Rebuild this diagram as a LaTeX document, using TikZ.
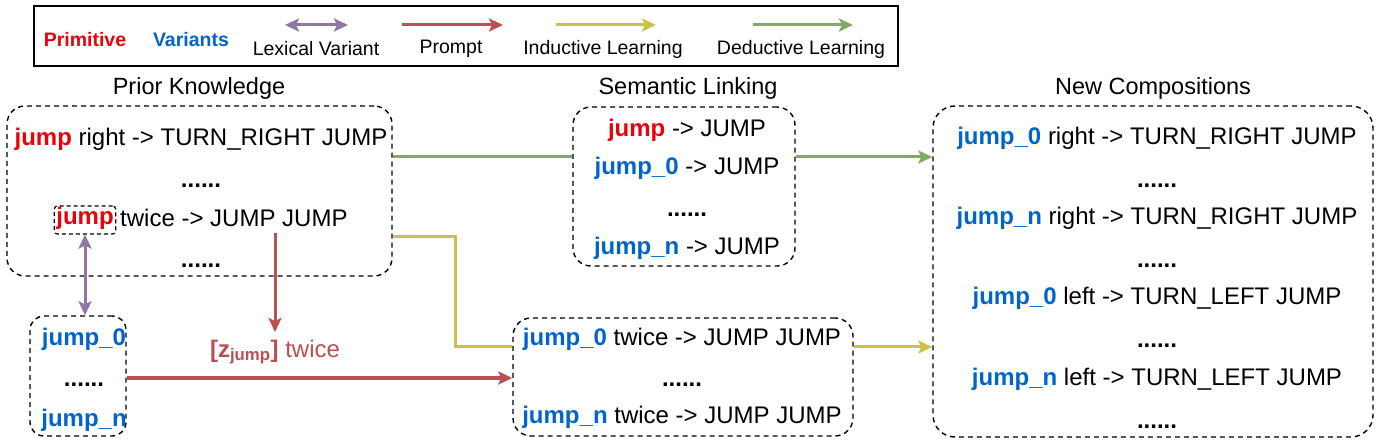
\documentclass[tikz,border=0pt]{standalone}
\usepackage{fontspec}
\setmainfont{Liberation Sans}
\usetikzlibrary{arrows.meta,calc}
\definecolor{prim}{RGB}{236,0,10}
\definecolor{vari}{RGB}{0,100,200}
\definecolor{lexc}{RGB}{142,118,166}
\definecolor{prc}{RGB}{186,80,84}
\definecolor{indc}{RGB}{201,193,74}
\definecolor{dedc}{RGB}{130,170,102}
\newcommand{\Pj}{\textcolor{prim}{\textbf{jump}}}
\newcommand{\Vz}{\textcolor{vari}{\textbf{jump\_0}}}
\newcommand{\Vn}{\textcolor{vari}{\textbf{jump\_n}}}
\newcommand{\Dots}{\textbf{......}}
\begin{document}
\begin{tikzpicture}[x=1pt,y=-1pt,
  txt/.style={font=\fontsize{24}{28}\selectfont, inner sep=0pt, text height=17pt, text depth=5pt},
  ttl/.style={font=\fontsize{23.5}{28}\selectfont, inner sep=0pt},
  lgt/.style={font=\fontsize{19.5}{24}\selectfont, inner sep=0pt},
  dbox/.style={draw, dash pattern=on 5pt off 4pt, line width=1.4pt, rounded corners=18pt, inner sep=0pt},
  tip/.style={-{Stealth[length=14pt,width=13pt,inset=3pt]}},
  conn/.style={line width=3pt}
]
\useasboundingbox (0,0) rectangle (1382,446);

% legend
\node[draw, line width=1.8pt, minimum width=864pt, minimum height=60pt, inner sep=0pt] (leg) at (466,36) {};
\node[lgt, text=prim, font=\fontsize{19.5}{24}\selectfont\bfseries] (lprim) at (85,40) {Primitive};
\node[lgt, text=vari, font=\fontsize{19.5}{24}\selectfont\bfseries] (lvar) at (191,40) {Variants};
\coordinate (la1) at (285,25); \coordinate (la2) at (348,25);
\draw[conn, lexc, {Stealth[length=14pt,width=13pt,inset=3pt]}-{Stealth[length=14pt,width=13pt,inset=3pt]}] (la1) -- (la2);
\node[lgt] (llex) at (316,49) {Lexical Variant};
\coordinate (lb1) at (402,25); \coordinate (lb2) at (503,25);
\draw[conn, prc, tip] (lb1) -- (lb2);
\node[lgt] (lprm) at (451,49) {Prompt};
\coordinate (lc1) at (556,25); \coordinate (lc2) at (656,25);
\draw[conn, indc, tip] (lc1) -- (lc2);
\node[lgt] (lind) at (603,49) {Inductive Learning};
\coordinate (ld1) at (753,25); \coordinate (ld2) at (853,25);
\draw[conn, dedc, tip] (ld1) -- (ld2);
\node[lgt] (lded) at (801,49) {Deductive Learning};

% titles
\node[ttl] (tpk) at (199,88) {Prior Knowledge};
\node[ttl] (tsl) at (688,88) {Semantic Linking};
\node[ttl] (tnc) at (1153,88) {New Compositions};

% prior knowledge box
\node[dbox, minimum width=385pt, minimum height=170pt] (pk) at (199.5,191) {};
\node[txt] (pk1) at (201,140) {\Pj{} right -> TURN\_RIGHT JUMP};
\node[txt] (pk2) at (201,182) {\Dots};
\node[txt, draw, dash pattern=on 4pt off 3pt, line width=1.2pt, rounded corners=3pt, inner xsep=2pt, inner ysep=0pt, text height=19pt, text depth=9pt] (pkj) at (85,220) {\Pj};
\node[txt, anchor=west] (pk3) at (120,221) {twice -> JUMP JUMP};
\node[txt] (pk4) at (201,262) {\Dots};

% variants box
\node[dbox, minimum width=96pt, minimum height=120pt, rounded corners=14pt] (vb) at (78,376) {};
\node[txt] (vb1) at (84,340) {\Vz};
\node[txt] (vb2) at (84,380) {\Dots};
\node[txt] (vb3) at (84,420) {\Vn};

% semantic linking box
\node[dbox, minimum width=222pt, minimum height=159pt] (sl) at (684,186.5) {};
\node[txt] (sl1) at (687,131) {\Pj{} -> JUMP};
\node[txt] (sl2) at (687,169) {\Vz{} -> JUMP};
\node[txt] (sl3) at (687,211) {\Dots};
\node[txt] (sl4) at (687,249) {\Vn{} -> JUMP};

% twice box
\node[dbox, minimum width=340pt, minimum height=118pt] (tb) at (683,377) {};
\node[txt] (tb1) at (682,339) {\Vz{} twice -> JUMP JUMP};
\node[txt] (tb2) at (682,380) {\Dots};
\node[txt] (tb3) at (682,417) {\Vn{} twice -> JUMP JUMP};

% new compositions box
\node[dbox, minimum width=440pt, minimum height=331pt, rounded corners=22pt] (nc) at (1153,271.5) {};
\node[txt] (nc1) at (1157,139) {\Vz{} right -> TURN\_RIGHT JUMP};
\node[txt] (nc2) at (1157,182) {\Dots};
\node[txt] (nc3) at (1157,219) {\Vn{} right -> TURN\_RIGHT JUMP};
\node[txt] (nc4) at (1157,262) {\Dots};
\node[txt] (nc5) at (1157,299) {\Vz{} left -> TURN\_LEFT JUMP};
\node[txt] (nc6) at (1157,342) {\Dots};
\node[txt] (nc7) at (1157,379) {\Vn{} left -> TURN\_LEFT JUMP};
\node[txt] (nc8) at (1157,422) {\Dots};

% connectors
\coordinate (gy) at (0,157);
\draw[conn, dedc] (pk.east |- gy) -- (sl.west |- gy);
\draw[conn, dedc, tip] (sl.east |- gy) -- (nc.west |- gy);

\coordinate (yy1) at (0,237);
\coordinate (yy2) at (455,347);
\draw[conn, indc] (pk.east |- yy1) -| (yy2) -- (tb.west |- yy2);
\draw[conn, indc, tip] (tb.east |- yy2) -- (nc.west |- yy2);

\draw[conn, lexc, {Stealth[length=14pt,width=13pt,inset=3pt]}-{Stealth[length=14pt,width=13pt,inset=3pt]}] (pkj.south) -- (vb.north -| pkj.south);

\coordinate (px) at (275,233);
\draw[conn, prc, tip] (px) -- (275,332);
\coordinate (ry) at (0,378);
\draw[conn, prc, tip] (vb.east |- ry) -- (tb.west |- ry);
\node[ttl, text=prc, font=\fontsize{24}{28}\selectfont] (plab) at (275,352) {\textbf{[z\textsubscript{jump}]} twice};
\end{tikzpicture}
\end{document}
